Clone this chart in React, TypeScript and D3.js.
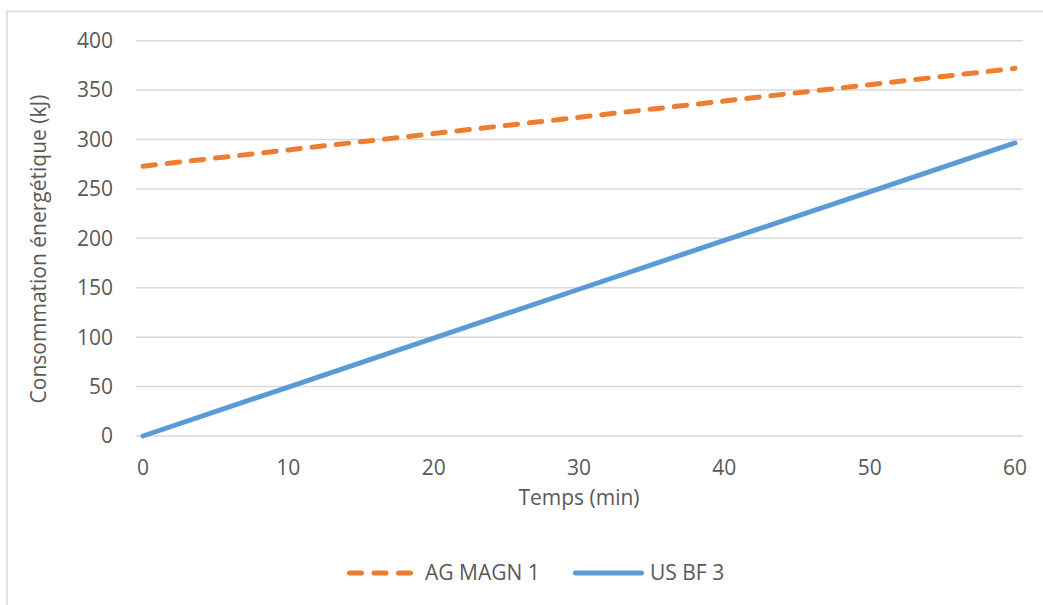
import React from "react";
import * as d3 from "d3";

const xValues = [0, 10, 20, 30, 40, 50, 60];
const agMagn1 = [273, 289.5, 306, 322.5, 339, 355.5, 372];
const usBf3 = [0, 49.5, 99, 148.5, 198, 247, 296.5];
const xTicks = [0, 10, 20, 30, 40, 50, 60];
const yTicks = [0, 50, 100, 150, 200, 250, 300, 350, 400];
const seriesNames = ["AG MAGN 1", "US BF 3"];

const W = 1043;
const H = 605;
const textColor = "#595959";
const gridColor = "#d9d9d9";
const orange = "#ED7D31";
const blue = "#5B9BD5";
const font = "'Open Sans', sans-serif";
const fs = 21;

export default function App() {
  const x = d3.scaleLinear().domain([0, 60]).range([143, 1015]);
  const y = d3.scaleLinear().domain([0, 400]).range([436, 40.7]);
  const gridX0 = 136;
  const gridX1 = 1023;

  const line = d3
    .line<[number, number]>()
    .x((d) => x(d[0]))
    .y((d) => y(d[1]));

  const orangePts = xValues.map((v, i) => [v, agMagn1[i]] as [number, number]);
  const bluePts = xValues.map((v, i) => [v, usBf3[i]] as [number, number]);

  return (
    <svg
      width={W}
      height={H}
      style={{ position: "absolute", left: 0, top: 0, display: "block" }}
      fontFamily={font}
    >
      <rect x={0} y={0} width={W} height={H} fill="#fff" />
      <rect
        x={7}
        y={11.5}
        width={W + 20}
        height={H + 20}
        fill="#fff"
        stroke={gridColor}
        strokeWidth={1.5}
      />
      {yTicks.map((t) => (
        <g key={t}>
          <line
            x1={gridX0}
            x2={gridX1}
            y1={y(t)}
            y2={y(t)}
            stroke={gridColor}
            strokeWidth={1.5}
          />
          <text
            x={113}
            y={y(t)}
            dy="0.35em"
            textAnchor="end"
            fontSize={fs}
            fill={textColor}
          >
            {t}
          </text>
        </g>
      ))}
      {xTicks.map((t) => (
        <text
          key={t}
          x={x(t)}
          y={475}
          textAnchor="middle"
          fontSize={fs}
          fill={textColor}
        >
          {t}
        </text>
      ))}
      <text
        x={579}
        y={505}
        textAnchor="middle"
        fontSize={fs}
        fill={textColor}
      >
        Temps (min)
      </text>
      <text
        transform={`translate(46,249) rotate(-90)`}
        textAnchor="middle"
        fontSize={fs}
        fill={textColor}
      >
        Consommation énergétique (kJ)
      </text>
      <path
        d={line(orangePts) || ""}
        fill="none"
        stroke={orange}
        strokeWidth={5}
        strokeDasharray="12.5 11.8"
        strokeLinecap="round"
      />
      <path
        d={line(bluePts) || ""}
        fill="none"
        stroke={blue}
        strokeWidth={5}
        strokeLinecap="round"
      />
      {/* legend */}
      <line
        x1={349.5}
        x2={411}
        y1={573}
        y2={573}
        stroke={orange}
        strokeWidth={5}
        strokeDasharray="12 12.5"
        strokeLinecap="round"
      />
      <text x={425} y={573} dy="0.35em" fontSize={fs} fill={textColor}>
        {seriesNames[0]}
      </text>
      <line
        x1={575.5}
        x2={641.5}
        y1={573}
        y2={573}
        stroke={blue}
        strokeWidth={5}
        strokeLinecap="round"
      />
      <text x={650} y={573} dy="0.35em" fontSize={fs} fill={textColor}>
        {seriesNames[1]}
      </text>
    </svg>
  );
}
